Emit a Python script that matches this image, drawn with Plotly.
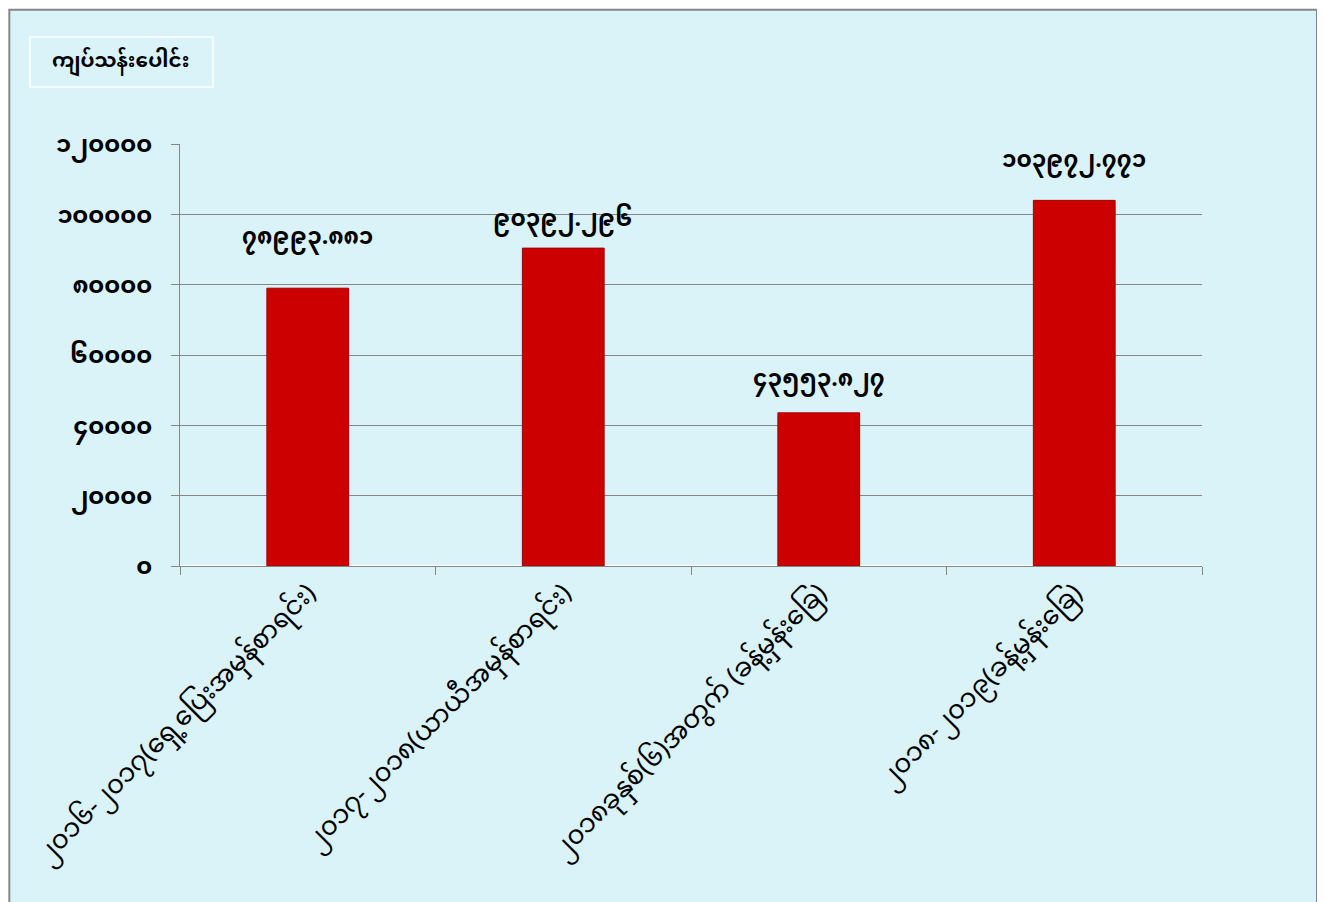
import plotly.graph_objects as go

categories = [
    "၂၀၁၆-၂၀၁၇(ရှေ့ပြေးအမှန်စာရင်း)",
    "၂၀၁၇-၂၀၁၈(ယာယီအမှန်စာရင်း)",
    "၂၀၁၈ခုနှစ်(၆)အတွက် (ခန့်မှန်းခြေ)",
    "၂၀၁၈-၂၀၁၉(ခန့်မှန်းခြေ)",
]
values = [78993.881, 90392.296, 43553.827, 103972.771]
value_labels = ["၇၈၉၉၃.၈၈၁", "၉၀၃၉၂.၂၉၆", "၄၃၅၅၃.၈၂၇", "၁၀၃၉၇၂.၇၇၁"]
tick_vals = [0, 20000, 40000, 60000, 80000, 100000, 120000]
tick_text = ["၀", "၂၀၀၀၀", "၄၀၀၀၀", "၆၀၀၀၀", "၈၀၀၀၀", "၁၀၀၀၀၀", "၁၂၀၀၀၀"]
unit_label = "ကျပ်သန်းပေါင်း"

# label offsets above bar tops (px), as placed in the original
label_offsets = [49, 27, 32, 38]

FONT = "Noto Sans Myanmar, Padauk, Myanmar Text, Noto Sans, DejaVu Sans, sans-serif"
BG = "#DAF3F8"

fig = go.Figure()
fig.add_trace(go.Bar(
    x=categories, y=values,
    marker=dict(color="#CC0000", line=dict(color="#A30000", width=1)),
    width=0.32,
    hoverinfo="skip",
))

for c, v, t, off in zip(categories, values, value_labels, label_offsets):
    fig.add_annotation(x=c, y=v, text="<b>" + t + "</b>", showarrow=False, yanchor="middle",
                       yshift=off, font=dict(size=23, color="black", family=FONT))

# outer frame
fig.add_shape(type="rect", xref="paper", yref="paper", x0=-0.167, x1=1.1125, y0=-0.85, y1=1.318,
              line=dict(color="#878787", width=2), fillcolor=BG, layer="below")
# unit label box
fig.add_shape(type="rect", xref="paper", yref="paper", x0=-0.1468, x1=0.0322, y0=1.1351, y1=1.2536,
              line=dict(color="white", width=1.5), layer="below")
fig.add_annotation(xref="paper", yref="paper", x=-0.0578, y=1.1943, xanchor="center", yanchor="middle",
                   text="<b>" + unit_label + "</b>", showarrow=False,
                   font=dict(size=20, color="black", family=FONT))

fig.update_layout(
    width=1325, height=902,
    margin=dict(l=172, r=131, t=136, b=344),
    paper_bgcolor="white",
    plot_bgcolor="white",
    showlegend=False,
    font=dict(family=FONT, color="black"),
    xaxis=dict(
        showline=True, linecolor="#868686", linewidth=1,
        ticks="outside", ticklen=8, tickcolor="#868686",
        tickson="boundaries",
        tickangle=-45,
        tickfont=dict(size=26, color="black", family=FONT),
    ),
    yaxis=dict(
        range=[0, 120000],
        tickvals=tick_vals, ticktext=["<b>" + s + "</b>" for s in tick_text],
        showline=True, linecolor="#868686", linewidth=1,
        ticks="outside", ticklen=8, tickcolor="#868686",
        showgrid=True, gridcolor="#868686", gridwidth=1,
        tickfont=dict(size=24, color="black", family=FONT),
        ticklabelstandoff=14,
    ),
    bargap=0.68,
)

fig.write_html("out.html")
